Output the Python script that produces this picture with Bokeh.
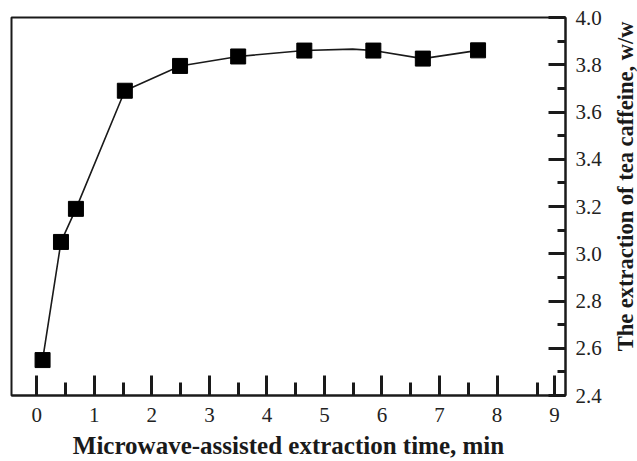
import math
from bokeh.plotting import figure
from bokeh.layouts import row
from bokeh.models import FixedTicker, Range1d, Label
from bokeh.embed import file_html
from bokeh.resources import INLINE

# Measured points (markers)
time_min = [0.1, 0.42, 0.68, 1.53, 2.49, 3.50, 4.65, 5.85, 6.71, 7.67]
caffeine = [2.55, 3.05, 3.19, 3.69, 3.795, 3.835, 3.86, 3.86, 3.826, 3.861]

# Connecting line path (includes one unmarked vertex near 5.5 min)
line_time = [0.1, 0.42, 0.68, 1.53, 2.49, 3.50, 4.65, 5.49, 5.85, 6.71, 7.67]
line_caff = [2.55, 3.05, 3.19, 3.69, 3.795, 3.835, 3.86, 3.866, 3.86, 3.826, 3.861]

x_ticks = [0, 1, 2, 3, 4, 5, 6, 7, 8, 9]
x_minor = [0.5, 1.5, 2.5, 3.5, 4.5, 5.5, 6.5, 7.5, 8.7]
y_ticks = [2.4, 2.6, 2.8, 3.0, 3.2, 3.4, 3.6, 3.8, 4.0]
y_minor = [2.5, 2.7, 2.9, 3.1, 3.3, 3.5, 3.7, 3.9]

x_title = "Microwave-assisted extraction time, min"
y_title = "The extraction of tea caffeine, w/w"

FONT = "Liberation Serif"
H = 461
TOP, BOTTOM = 17, 62

p = figure(width=610, height=H, output_backend="svg", toolbar_location=None,
           x_range=Range1d(-0.44, 9.19), y_range=Range1d(2.4, 4.0),
           y_axis_location="right",
           min_border_left=11, min_border_top=TOP, min_border_right=45, min_border_bottom=BOTTOM)

p.grid.visible = False
p.outline_line_color = "#1a1a1a"
p.outline_line_width = 2
p.background_fill_color = "white"
p.border_fill_color = "white"

p.line(line_time, line_caff, line_color="#1a1a1a", line_width=1.6)
p.scatter(time_min, caffeine, marker="square", size=15, fill_color="black", line_color="black")

xa = p.xaxis[0]
xa.ticker = FixedTicker(ticks=x_ticks, minor_ticks=x_minor)
xa.axis_label = x_title

ya = p.yaxis[0]
ya.ticker = FixedTicker(ticks=y_ticks, minor_ticks=y_minor)
ya.major_label_overrides = {t: f"{t:.1f}" for t in y_ticks}

for ax in (xa, ya):
    ax.axis_line_color = "#1a1a1a"
    ax.axis_line_width = 2
    ax.major_tick_line_color = "#1a1a1a"
    ax.minor_tick_line_color = "#1a1a1a"
    ax.major_tick_line_width = 3
    ax.minor_tick_line_width = 3
    ax.major_tick_out = 0
    ax.minor_tick_out = 0
    ax.major_label_text_font = FONT
    ax.major_label_text_font_size = "21px"
    ax.major_label_text_color = "#222222"
    ax.axis_label_text_font = FONT
    ax.axis_label_text_font_style = "bold"
    ax.axis_label_text_font_size = "25px"
    ax.axis_label_text_color = "#1a1a1a"

xa.major_tick_in = 20
xa.minor_tick_in = 13
xa.major_label_standoff = 12
xa.axis_label_standoff = 7

ya.major_tick_in = 17
ya.minor_tick_in = 8
ya.major_label_standoff = 10

# Narrow side panel carrying the right-hand axis title (reads bottom to top)
p2 = figure(width=27, height=H, output_backend="svg", toolbar_location=None,
            x_range=Range1d(0, 1), y_range=Range1d(0, H),
            min_border=0, outline_line_color=None)
p2.axis.visible = False
p2.grid.visible = False
p2.border_fill_color = "white"
p2.add_layout(Label(x=0.55, y=(H - TOP + BOTTOM) / 2 + 2, text=y_title, angle=math.pi / 2,
                    text_align="center", text_baseline="middle",
                    text_font=FONT, text_font_style="bold", text_font_size="22.5px",
                    text_color="#1a1a1a"))

layout = row(p, p2, spacing=0)

open("out.html", "w").write(file_html(layout, INLINE))
